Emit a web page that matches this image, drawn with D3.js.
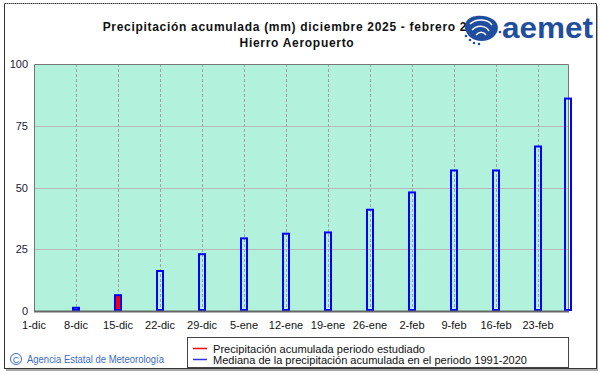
<!DOCTYPE html>
<html>
  <head>
    <meta charset="utf-8">
    <title>Precipitación acumulada</title>
    <script src="https://cdn.jsdelivr.net/npm/d3@7"></script>
    <style>
      body { margin: 0; background: #fff; }
      svg { display: block; font-family: Arial, "Liberation Sans", sans-serif; }
    </style>
  </head>
  <body>
    <svg id="chart"></svg>
    <script>
const tickDates = ['2025-12-01', '2025-12-08', '2025-12-15', '2025-12-22', '2025-12-29', '2026-01-05',
  '2026-01-12', '2026-01-19', '2026-01-26', '2026-02-02', '2026-02-09', '2026-02-16', '2026-02-23'];
const tickLabels = ['1-dic', '8-dic', '15-dic', '22-dic', '29-dic', '5-ene', '12-ene', '19-ene',
  '26-ene', '2-feb', '9-feb', '16-feb', '23-feb'];
const yTicks = [0, 25, 50, 75, 100];

const medianDates = ['2025-12-08', '2025-12-15', '2025-12-22', '2025-12-29', '2026-01-05', '2026-01-12',
  '2026-01-19', '2026-01-26', '2026-02-02', '2026-02-09', '2026-02-16', '2026-02-23', '2026-02-28'];
const medianValues = [1.3, 6.4, 16.2, 23.0, 29.4, 31.3, 31.8, 41.0, 48.0, 56.9, 56.9, 66.6, 86.0];

const observedDates = ['2025-12-08', '2025-12-15'];
const observedValues = [1.0, 6.4];

const legendLabels = ['Precipitación acumulada periodo estudiado',
  'Mediana de la precipitación acumulada en el periodo 1991-2020'];
const legendColors = ['#ff0000', '#3333dd'];

let parse = d3.timeParse('%Y-%m-%d');
let width = 601, height = 374;
let plotLeft = 34, plotRight = 568, plotTop = 64, plotBottom = 311;

let svg = d3.select('#chart')
  .attr('width', width)
  .attr('height', height);

// outer frame with a little shadow
svg.append('rect')
  .attr('x', 6).attr('y', 6).attr('width', 592).attr('height', 365)
  .attr('fill', '#a8a8a8');
svg.append('rect')
  .attr('x', 4.5).attr('y', 3.5).attr('width', 592).attr('height', 365)
  .attr('fill', '#fff')
  .attr('stroke', '#333')
  .attr('stroke-width', 1);
svg.append('line')
  .attr('x1', 4).attr('x2', 597).attr('y1', 3.5).attr('y2', 3.5)
  .attr('stroke', '#999').attr('stroke-dasharray', '1,1');

let x = d3.scaleTime()
  .domain([parse('2025-12-01'), parse('2026-02-28')])
  .range([plotLeft, plotRight]);
let y = d3.scaleLinear()
  .domain([0, 100])
  .range([plotBottom, plotTop]);

svg.append('rect')
  .attr('x', plotLeft).attr('y', plotTop)
  .attr('width', plotRight - plotLeft).attr('height', plotBottom - plotTop)
  .attr('fill', '#b2f2dc');

// horizontal grid
svg.append('g')
  .selectAll('line')
  .data(yTicks.filter(d => d > 0 && d < 100))
  .enter()
  .append('line')
  .attr('x1', plotLeft).attr('x2', plotRight)
  .attr('y1', d => Math.round(y(d)) + 0.5).attr('y2', d => Math.round(y(d)) + 0.5)
  .attr('stroke', '#b8b8b8');

// vertical dashed grid
svg.append('g')
  .selectAll('line')
  .data(tickDates.slice(1))
  .enter()
  .append('line')
  .attr('x1', d => Math.round(x(parse(d))) + 0.5).attr('x2', d => Math.round(x(parse(d))) + 0.5)
  .attr('y1', plotTop).attr('y2', plotBottom)
  .attr('stroke', '#a2a2a2')
  .attr('stroke-dasharray', '3,2');

// plot frame
svg.append('path')
  .attr('d', `M${plotLeft + 0.5},${plotBottom} V${plotTop + 0.5} H${plotRight + 0.5} V${plotBottom}`)
  .attr('fill', 'none')
  .attr('stroke', '#777');

// observed bars (red)
svg.append('g')
  .selectAll('rect')
  .data(observedDates.map((d, i) => ({date: parse(d), value: observedValues[i]})))
  .enter()
  .append('rect')
  .attr('x', d => x(d.date) - 3)
  .attr('y', d => y(d.value))
  .attr('width', 6)
  .attr('height', d => plotBottom - y(d.value))
  .attr('fill', '#ff0000');

// median bars (hollow blue)
svg.append('g')
  .selectAll('rect')
  .data(medianDates.map((d, i) => ({date: parse(d), value: medianValues[i]})))
  .enter()
  .append('rect')
  .attr('x', d => x(d.date) - 3)
  .attr('y', d => y(d.value))
  .attr('width', 6)
  .attr('height', d => plotBottom - y(d.value) - 1)
  .attr('fill', 'none')
  .attr('stroke', '#0000ff')
  .attr('stroke-width', 2);

// axis line
svg.append('line')
  .attr('x1', plotLeft).attr('x2', plotRight + 1)
  .attr('y1', plotBottom + 0.5).attr('y2', plotBottom + 0.5)
  .attr('stroke', '#666').attr('stroke-width', 2);

// y labels
svg.append('g')
  .selectAll('text')
  .data(yTicks)
  .enter()
  .append('text')
  .attr('x', 28)
  .attr('y', d => y(d) + 4)
  .attr('text-anchor', 'end')
  .attr('font-size', 11)
  .attr('fill', '#1a1a3a')
  .text(d => d);

// x labels
svg.append('g')
  .selectAll('text')
  .data(tickDates)
  .enter()
  .append('text')
  .attr('x', d => x(parse(d)))
  .attr('y', 329)
  .attr('text-anchor', 'middle')
  .attr('font-size', 11)
  .attr('fill', '#111')
  .text((d, i) => tickLabels[i]);

// title
let title = svg.append('g')
  .attr('font-weight', 'bold')
  .attr('font-size', 12)
  .attr('letter-spacing', 0.7)
  .attr('text-anchor', 'middle')
  .attr('fill', '#111');
title.append('text').attr('x', 296).attr('y', 31)
  .text('Precipitación acumulada (mm) diciembre 2025 - febrero 2026');
title.append('text').attr('x', 297).attr('y', 47)
  .text('Hierro Aeropuerto');

// logo
let logo = svg.append('g');
logo.append('path')
  .attr('d', 'M466,22 C470,14 486,14 494,20 C500,25 499,33 492,38 C486,42 476,42 470,37 C466,33 463,27 466,22 Z')
  .attr('fill', '#1f4e9e');
logo.append('path')
  .attr('d', 'M470,24 C476,18 488,19 492,25 M472,30 C478,24 486,26 489,31 M476,35 C480,31 484,32 486,35')
  .attr('fill', 'none')
  .attr('stroke', '#fff')
  .attr('stroke-width', 1.5);
logo.selectAll('circle')
  .data([[470, 40], [474, 43], [479, 44], [466, 36], [500, 32]])
  .enter()
  .append('circle')
  .attr('cx', d => d[0]).attr('cy', d => d[1]).attr('r', 1.3)
  .attr('fill', '#1f4e9e');
logo.append('text')
  .attr('x', 502).attr('y', 38)
  .attr('font-size', 29)
  .attr('font-weight', 'bold')
  .attr('textLength', 91)
  .attr('lengthAdjust', 'spacingAndGlyphs')
  .attr('fill', '#1f4e9e')
  .text('aemet');

// legend
svg.append('rect')
  .attr('x', 187.5).attr('y', 337.5).attr('width', 381).attr('height', 30)
  .attr('fill', '#fff').attr('stroke', '#444');
let legend = svg.append('g')
  .selectAll('g')
  .data(legendLabels)
  .enter()
  .append('g')
  .attr('transform', (d, i) => `translate(0,${348.5 + i * 11})`);
legend.append('line')
  .attr('x1', 193).attr('x2', 207)
  .attr('stroke', (d, i) => legendColors[i])
  .attr('stroke-width', 1.5);
legend.append('text')
  .attr('x', 213).attr('y', 4)
  .attr('font-size', 11)
  .attr('fill', '#111')
  .attr('textLength', (d, i) => i === 0 ? 212 : 314)
  .attr('lengthAdjust', 'spacingAndGlyphs')
  .text(d => d);

// copyright
svg.append('circle')
  .attr('cx', 16).attr('cy', 359).attr('r', 5.5)
  .attr('fill', 'none').attr('stroke', '#3d6bc4');
svg.append('text')
  .attr('x', 16).attr('y', 362.5)
  .attr('text-anchor', 'middle')
  .attr('font-size', 9)
  .attr('fill', '#3d6bc4')
  .text('C');
svg.append('text')
  .attr('x', 27).attr('y', 363)
  .attr('font-size', 10)
  .attr('fill', '#3d6bc4')
  .attr('textLength', 137)
  .attr('lengthAdjust', 'spacingAndGlyphs')
  .text('Agencia Estatal de Meteorología');
    </script>
  </body>
</html>
